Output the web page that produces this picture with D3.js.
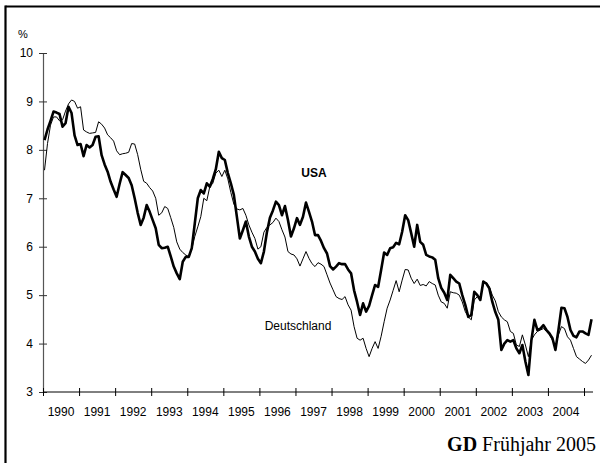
<!DOCTYPE html>
<html>
<head>
<meta charset="utf-8">
<script src="https://cdn.jsdelivr.net/npm/d3@7"></script>
<style>
  html, body { margin: 0; padding: 0; background: #fff; }
  svg { display: block; }
</style>
</head>
<body>
<svg id="chart" width="600" height="463"></svg>
<script>
// Monthly values, Jan 1990 .. Mar 2005 (percent)
const startYear = 1990;
const yearLabels = ["1990","1991","1992","1993","1994","1995","1996","1997","1998","1999","2000","2001","2002","2003","2004"];
const yTicks = [3, 4, 5, 6, 7, 8, 9, 10];

const usa = [
  8.20, 8.42, 8.60, 8.79, 8.77, 8.74, 8.48, 8.55, 8.89, 8.76, 8.30, 8.10,
  8.12, 7.87, 8.10, 8.05, 8.10, 8.27, 8.28, 7.89, 7.70, 7.55, 7.34, 7.18,
  7.03, 7.30, 7.54, 7.48, 7.42, 7.27, 7.00, 6.70, 6.45, 6.60, 6.86, 6.72,
  6.55, 6.38, 6.04, 5.97, 5.98, 6.00, 5.80, 5.59, 5.45, 5.33, 5.69, 5.79,
  5.79, 5.97, 6.48, 7.00, 7.17, 7.10, 7.31, 7.24, 7.40, 7.60, 7.96, 7.83,
  7.79, 7.52, 7.31, 7.07, 6.62, 6.17, 6.34, 6.52, 6.21, 6.00, 5.90, 5.75,
  5.66, 5.90, 6.30, 6.60, 6.75, 6.93, 6.86, 6.65, 6.84, 6.55, 6.21, 6.38,
  6.59, 6.45, 6.62, 6.91, 6.72, 6.52, 6.24, 6.24, 6.12, 5.97, 5.86, 5.60,
  5.53, 5.59, 5.66, 5.64, 5.64, 5.53, 5.45, 5.10, 4.86, 4.59, 4.83, 4.66,
  4.78, 5.00, 5.21, 5.17, 5.52, 5.88, 5.83, 5.97, 5.99, 6.08, 6.05, 6.31,
  6.65, 6.55, 6.28, 6.00, 6.45, 6.10, 6.04, 5.83, 5.80, 5.78, 5.73, 5.35,
  5.15, 5.05, 4.90, 5.42, 5.35, 5.28, 5.24, 5.00, 4.80, 4.55, 4.59, 5.07,
  5.00, 4.90, 5.28, 5.24, 5.14, 4.86, 4.65, 4.49, 3.87, 4.00, 4.07, 4.04,
  4.07, 3.90, 3.80, 3.97, 3.63, 3.35, 4.07, 4.49, 4.28, 4.31, 4.38, 4.28,
  4.21, 4.11, 3.87, 4.28, 4.74, 4.73, 4.55, 4.28, 4.16, 4.13, 4.25, 4.25,
  4.21, 4.18, 4.50
];

const deutschland = [
  7.58, 8.13, 8.51, 8.68, 8.68, 8.60, 8.62, 8.80, 8.95, 9.03, 9.00, 8.86,
  8.89, 8.41, 8.37, 8.34, 8.35, 8.36, 8.58, 8.53, 8.45, 8.31, 8.25, 8.18,
  7.98, 7.90, 7.92, 7.93, 7.95, 8.13, 8.12, 7.90, 7.60, 7.35, 7.31, 7.22,
  7.15, 7.00, 6.65, 6.70, 6.83, 6.79, 6.60, 6.40, 6.10, 5.95, 5.88, 5.83,
  5.79, 5.95, 6.21, 6.41, 6.62, 7.00, 6.95, 7.24, 7.31, 7.52, 7.58, 7.45,
  7.58, 7.40, 7.12, 6.88, 6.78, 6.76, 6.79, 6.65, 6.45, 6.30, 6.17, 5.95,
  6.00, 6.30, 6.40, 6.45, 6.50, 6.59, 6.52, 6.35, 6.20, 5.90, 5.85, 5.83,
  5.75, 5.60, 5.75, 5.90, 5.76, 5.65, 5.59, 5.67, 5.64, 5.59, 5.42, 5.25,
  5.11, 4.97, 4.93, 4.91, 4.97, 4.80, 4.69, 4.35, 4.11, 4.07, 4.11, 3.90,
  3.73, 3.90, 4.04, 3.90, 4.15, 4.45, 4.73, 4.90, 5.10, 5.30, 5.07, 5.31,
  5.53, 5.52, 5.35, 5.24, 5.33, 5.20, 5.22, 5.19, 5.28, 5.24, 5.21, 5.00,
  4.86, 4.83, 4.73, 5.07, 5.05, 5.04, 5.00, 4.86, 4.66, 4.55, 4.49, 4.90,
  4.97, 4.93, 5.24, 5.26, 5.17, 5.00, 4.88, 4.66, 4.55, 4.49, 4.45, 4.25,
  4.21, 3.97, 3.94, 4.18, 3.97, 3.73, 4.07, 4.18, 4.25, 4.28, 4.31, 4.25,
  4.18, 4.07, 3.94, 4.18, 4.35, 4.31, 4.14, 4.07, 3.90, 3.73, 3.68, 3.63,
  3.59, 3.66, 3.76
];

const svg = d3.select("#chart");

// frame (left and top edges visible)
svg.append("line").attr("x1", 5.5).attr("y1", 5.5).attr("x2", 5.5).attr("y2", 463)
  .attr("stroke", "#000").attr("stroke-width", 2.2);
svg.append("line").attr("x1", 5.5).attr("y1", 6.5).attr("x2", 600).attr("y2", 6.5)
  .attr("stroke", "#000").attr("stroke-width", 2.2);

// scales: domain in years since Jan 1990
const x = d3.scaleLinear().domain([0, 15]).range([43, 584]);
const y = d3.scaleLinear().domain([3, 10]).range([392, 53]);

const sans = "'Liberation Sans', Arial, sans-serif";

// Y axis
const yAxis = d3.axisLeft(y).tickValues(yTicks).tickSize(0).tickPadding(10).tickFormat(d3.format("d"));
const gy = svg.append("g").attr("transform", `translate(${x(0)},0)`).call(yAxis);
gy.select(".domain").attr("stroke", "#555").attr("stroke-width", 1.2);
gy.selectAll(".tick text").attr("font-family", sans).attr("font-size", 12).attr("fill", "#000");
gy.selectAll(".tick").append("line").attr("x1", -4).attr("x2", 4).attr("stroke", "#333");

svg.append("text").attr("x", 18).attr("y", 38).attr("font-family", sans).attr("font-size", 11).text("%");

// X axis
const xTickVals = d3.range(0, 16);
const xAxis = d3.axisBottom(x).tickValues(xTickVals).tickSize(0).tickFormat("");
const gx = svg.append("g").attr("transform", `translate(0,${y(3)})`).call(xAxis);
gx.select(".domain").remove();
gx.append("line").attr("x1", x(0)).attr("x2", x(15.25)).attr("stroke", "#000").attr("stroke-width", 1);
gx.selectAll(".tick").append("line").attr("y1", -4).attr("y2", 4).attr("stroke", "#000");
gx.selectAll(".ylabel").data(yearLabels).enter().append("text")
  .attr("x", (d, i) => x(i + 0.5)).attr("y", 24)
  .attr("text-anchor", "middle").attr("font-family", sans).attr("font-size", 12).attr("fill", "#000")
  .text(d => d);

// lines
const line = d3.line().x((d, i) => x((i + 0.5) / 12)).y(d => y(d));
svg.append("path").datum(deutschland).attr("d", line)
  .attr("fill", "none").attr("stroke", "#000").attr("stroke-width", 1).attr("stroke-linejoin", "round");
svg.append("path").datum(usa).attr("d", line)
  .attr("fill", "none").attr("stroke", "#000").attr("stroke-width", 2.6).attr("stroke-linejoin", "round");

// series labels
svg.append("text").attr("x", 314).attr("y", 177).attr("text-anchor", "middle")
  .attr("font-family", sans).attr("font-size", 12).attr("font-weight", "bold").text("USA");
svg.append("text").attr("x", 298).attr("y", 330).attr("text-anchor", "middle")
  .attr("font-family", sans).attr("font-size", 12).text("Deutschland");

// source
const src = svg.append("text").attr("x", 596).attr("y", 451).attr("text-anchor", "end")
  .attr("font-family", "'Liberation Serif', 'Times New Roman', serif").attr("font-size", 20);
src.append("tspan").attr("font-weight", "bold").text("GD");
src.append("tspan").text(" Frühjahr 2005");
</script>
</body>
</html>
